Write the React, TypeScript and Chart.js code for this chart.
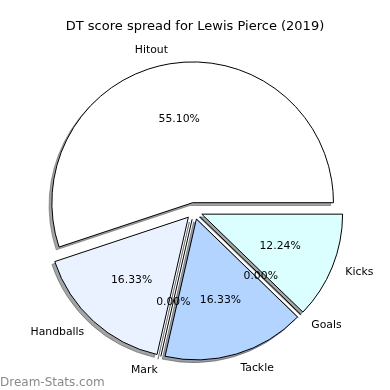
import React, { useEffect, useRef } from 'react';
import { Chart, registerables } from 'chart.js';

Chart.register(...registerables);

// ---- data (matplotlib order: counter-clockwise from 3 o'clock) ----
const TITLE = 'DT score spread for Lewis Pierce (2019)';
const WATERMARK = 'Dream-Stats.com';
const CATEGORIES = ['Hitout', 'Handballs', 'Mark', 'Tackle', 'Goals', 'Kicks'];
const DT_POINTS = [27, 8, 0, 8, 0, 6];
const SLICE_COLORS = ['#ffffff', '#ebf2ff', '#d5e6ff', '#b3d4ff', '#c8f6ff', '#dbffff'];

// ---- style constants ----
const FONT = '"DejaVu Sans", "Liberation Sans", sans-serif';
const LABEL_PX = 10.83;
const TITLE_PX = 13;
const EXPLODE_PX = 8.4;
const SHADOW_DX = -2.8;
const SHADOW_DY = 2.8;
const LABEL_DIST = 1.1;
const PCT_DIST = 0.6;

// Chart.js draws clockwise on screen, matplotlib counter-clockwise: reverse.
const chartLabels = [...CATEGORIES].reverse();
const chartValues = [...DT_POINTS].reverse();
const chartColors = [...SLICE_COLORS].reverse();
const TOTAL = DT_POINTS.reduce((a, b) => a + b, 0);

function shadowColor(hex: string): string {
  const h = hex.replace('#', '');
  const r = parseInt(h.slice(0, 2), 16);
  const g = parseInt(h.slice(2, 4), 16);
  const b = parseInt(h.slice(4, 6), 16);
  return `rgba(${Math.round(r * 0.3)},${Math.round(g * 0.3)},${Math.round(b * 0.3)},0.5)`;
}

const mplPiePlugin = {
  id: 'mplPie',
  beforeDatasetDraw(chart: any, args: any) {
    const ctx: CanvasRenderingContext2D = chart.ctx;
    const arcs = args.meta.data;
    // shadows (all below the wedges)
    arcs.forEach((arc: any, i: number) => {
      const { x, y, startAngle, endAngle, outerRadius } = arc;
      const mid = (startAngle + endAngle) / 2;
      const col = shadowColor(chartColors[i]);
      ctx.save();
      ctx.translate(Math.cos(mid) * EXPLODE_PX + SHADOW_DX, Math.sin(mid) * EXPLODE_PX + SHADOW_DY);
      ctx.beginPath();
      ctx.moveTo(x, y);
      if (endAngle > startAngle) {
        ctx.arc(x, y, outerRadius, startAngle, endAngle);
      } else {
        ctx.lineTo(x + outerRadius * Math.cos(startAngle), y + outerRadius * Math.sin(startAngle));
      }
      ctx.closePath();
      ctx.fillStyle = col;
      ctx.strokeStyle = col;
      ctx.lineWidth = 1;
      ctx.lineJoin = 'miter';
      if (endAngle > startAngle) ctx.fill();
      ctx.stroke();
      ctx.restore();
    });
    // wedges
    arcs.forEach((arc: any) => {
      const { x, y, startAngle, endAngle, outerRadius } = arc;
      const mid = (startAngle + endAngle) / 2;
      ctx.save();
      ctx.translate(Math.cos(mid) * EXPLODE_PX, Math.sin(mid) * EXPLODE_PX);
      if (endAngle > startAngle) {
        arc.draw(ctx);
      } else {
        ctx.beginPath();
        ctx.moveTo(x, y);
        ctx.lineTo(x + outerRadius * Math.cos(startAngle), y + outerRadius * Math.sin(startAngle));
        ctx.strokeStyle = '#000000';
        ctx.lineWidth = 1;
        ctx.stroke();
      }
      ctx.restore();
    });
    return false;
  },
  afterDraw(chart: any) {
    const ctx: CanvasRenderingContext2D = chart.ctx;
    const meta = chart.getDatasetMeta(0);
    ctx.save();
    ctx.fillStyle = '#000000';
    ctx.font = `${LABEL_PX}px ${FONT}`;
    const vOff = 0.276 * LABEL_PX;
    meta.data.forEach((arc: any, i: number) => {
      const { x, y, startAngle, endAngle, outerRadius } = arc;
      const mid = (startAngle + endAngle) / 2;
      const c = Math.cos(mid);
      const s = Math.sin(mid);
      // category label
      const lr = EXPLODE_PX + LABEL_DIST * outerRadius;
      ctx.textAlign = c > 0 ? 'left' : 'right';
      ctx.textBaseline = 'alphabetic';
      ctx.fillText(chartLabels[i], x + c * lr, y + s * lr + vOff);
      // percentage
      const pr = EXPLODE_PX + PCT_DIST * outerRadius;
      ctx.textAlign = 'center';
      const pct = ((chartValues[i] / TOTAL) * 100).toFixed(2) + '%';
      ctx.fillText(pct, x + c * pr, y + s * pr + vOff);
    });
    // title
    ctx.font = `${TITLE_PX}px ${FONT}`;
    ctx.textAlign = 'center';
    ctx.textBaseline = 'alphabetic';
    ctx.fillText(TITLE, chart.width / 2, 30);
    // watermark
    ctx.font = `12px ${FONT}`;
    ctx.fillStyle = '#8a8a8a';
    ctx.textAlign = 'left';
    ctx.fillText(WATERMARK, 0, 386);
    ctx.restore();
  },
};

export default function App() {
  const canvasRef = useRef<HTMLCanvasElement | null>(null);

  useEffect(() => {
    if (!canvasRef.current) return;
    const chart = new Chart(canvasRef.current, {
      type: 'pie',
      data: {
        labels: chartLabels,
        datasets: [
          {
            data: chartValues,
            backgroundColor: chartColors,
            borderColor: '#000000',
            borderWidth: 1,
            borderJoinStyle: 'miter',
            radius: 140.8,
            offset: 0,
            clip: false,
          } as any,
        ],
      },
      options: {
        responsive: false,
        animation: false,
        rotation: 90,
        layout: { padding: { left: 0, right: 2, top: 32, bottom: 0 } },
        plugins: {
          legend: { display: false },
          title: { display: false },
          tooltip: { enabled: false },
        },
        events: [],
      },
      plugins: [mplPiePlugin],
    });
    return () => chart.destroy();
  }, []);

  return (
    <div style={{ position: 'fixed', left: 0, top: 0, width: 390, height: 390, background: '#ffffff' }}>
      <canvas ref={canvasRef} width={390} height={390} style={{ display: 'block' }} />
    </div>
  );
}
